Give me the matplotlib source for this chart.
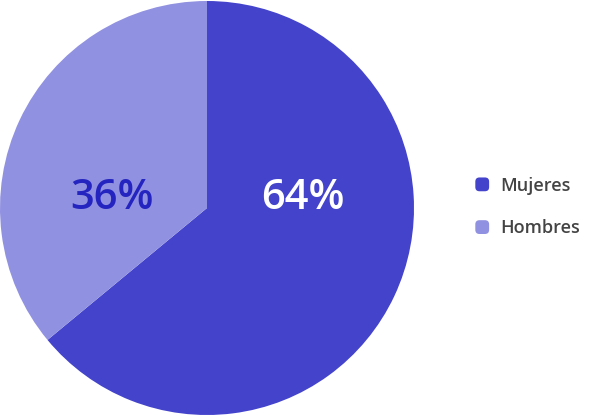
import matplotlib
matplotlib.use("Agg")
import matplotlib.pyplot as plt
from matplotlib.patches import FancyBboxPatch
from matplotlib.legend_handler import HandlerPatch

categories = ["Mujeres", "Hombres"]
values = [64, 36]
colors = ["#4343cc", "#9191e1"]
label_colors = ["#ffffff", "#2424c0"]

fig = plt.figure(figsize=(5.9, 4.16), dpi=100)
ax = fig.add_axes([0 / 590, 1 / 416, 414 / 590, 414 / 416])
wedges, _ = ax.pie(values, colors=colors, startangle=90, counterclock=False,
                   wedgeprops=dict(linewidth=0))
ax.set_xlim(-1, 1)
ax.set_ylim(-1, 1)
ax.set_aspect("equal")

label_pos = [(0.464, -0.005), (-0.457, -0.005)]
for (x, y), v, c in zip(label_pos, values, label_colors):
    ax.text(x, y, f"{v}%", ha="center", va="baseline", fontsize=30,
            color=c, family="Open Sans", weight="semibold")


class RoundSquare(HandlerPatch):
    def create_artists(self, legend, orig_handle, xdescent, ydescent,
                       width, height, fontsize, trans):
        s = min(width, height)
        p = FancyBboxPatch((-xdescent + (width - s) / 2, -ydescent + (height - s) / 2),
                           s, s, boxstyle="round,pad=0,rounding_size=3",
                           facecolor=orig_handle.get_facecolor(), edgecolor="none",
                           transform=trans)
        return [p]


leg = fig.legend(wedges, categories, loc="center left",
                 bbox_to_anchor=(475 / 590, 1 - 207 / 416), frameon=False,
                 borderpad=0, borderaxespad=0,
                 handlelength=0.8, handleheight=0.8, handletextpad=0.58,
                 labelspacing=1.37, prop=dict(family="Open Sans", size=13, weight="semibold"),
                 handler_map={w: RoundSquare() for w in wedges})
for t in leg.get_texts():
    t.set_color("#444444")

fig.savefig("out.png", dpi=100)
